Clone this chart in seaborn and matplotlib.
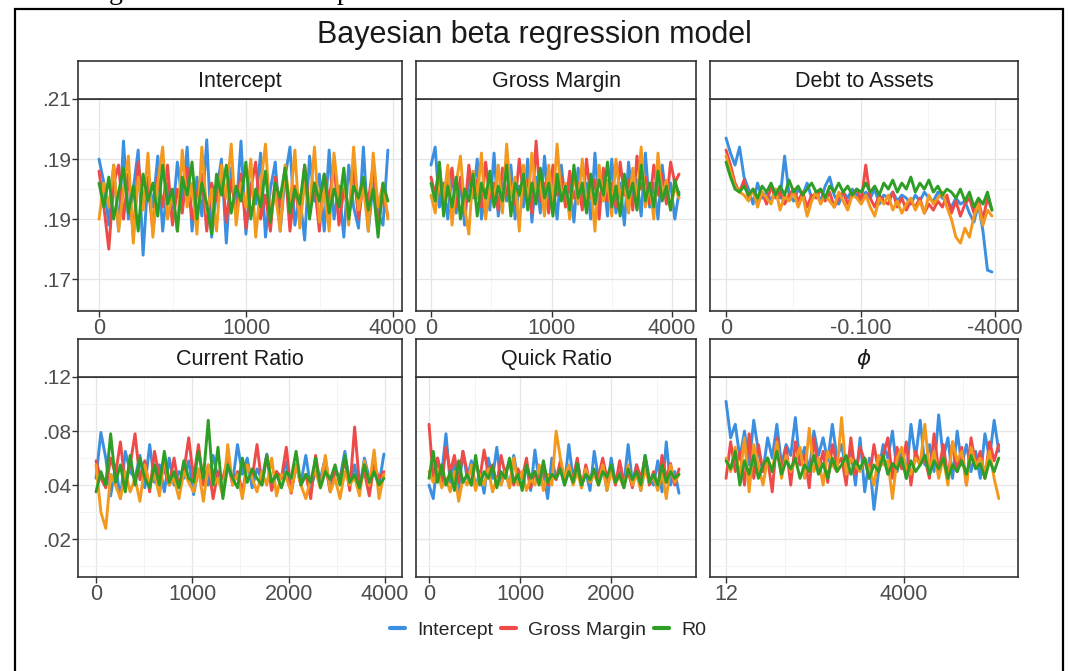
import numpy as np
import pandas as pd
import matplotlib
matplotlib.use("Agg")
import matplotlib.pyplot as plt
import seaborn as sns
from matplotlib.ticker import FixedLocator, NullFormatter
from matplotlib.patches import Rectangle

# ---------------- data ----------------
TITLE = "Bayesian beta regression model"
PANELS = ["Intercept", "Gross Margin", "Debt to Assets", "Current Ratio", "Quick Ratio", r"$\phi$"]
CHAINS = ["Intercept", "Gross Margin", "Chain 4", "R0"]          # draw order (green on top)
LEGEND_CHAINS = ["Intercept", "Gross Margin", "R0"]
COLORS = {"Intercept": "#3b8fe0", "Gross Margin": "#ee4a48", "Chain 4": "#f39a1e", "R0": "#2f9e26"}

# last iteration shown in each panel (axis units)
LAST_ITER = [3930, 4116, 3955, 2990, 2747, 4600]

# x tick positions / labels per panel
XTICKS = [[0, 2000, 4000], [0, 2000, 4000], [0, 2000, 4000], [0, 1000, 2000, 3000], [0, 1000, 2000], [0, 3000]]
XTICKLABELS = [["0", "1000", "4000"], ["0", "1000", "4000"], ["0", "-0.100", "-4000"],
               ["0", "1000", "2000", "4000"], ["0", "1000", "2000"], ["12", "4000"]]
XMINOR = [[1000, 3000], [1000, 3000], [1000, 3000], [500, 1500, 2500], [500, 1500, 2500], [1000, 2000, 4000]]
XLIM = [(-286, 4122), (-249, 4398), (-238, 4342), (-187, 3178), (-143, 2934), (-270, 4924)]

# y ticks per row
TOP_YTICKS = [0.21, 0.20, 0.19, 0.18]
TOP_YLABELS = [".21", ".19", ".19", ".17"]
TOP_YMINOR = [0.205, 0.195, 0.185, 0.175]
TOP_YLIM = (0.1747, 0.2100)
BOT_YTICKS = [0.12, 0.08, 0.04, 0.00]
BOT_YLABELS = [".12", ".08", ".04", ".02"]
BOT_YMINOR = [0.10, 0.06, 0.02, -0.02]
BOT_YLIM = (-0.028, 0.1200)

# ---- Intercept panel
int_blue = [.2000,.1960,.1890,.1990,.1880,.2030,.1900,.1950,.2015,.1840,.1970,.1920,.2005,.1880,.1960,.1900,.1995,.1930,.2020,.1880,
            .1970,.1905,.2032,.1870,.1945,.2000,.1860,.1985,.1910,.2030,.1875,.1960,.1925,.2010,.1870,.1950,.1995,.1880,.1970,.2020,
            .1890,.1940,.1865,.2005,.1930,.1975,.1880,.2015,.1900,.1955,.1870,.1990,.1920,.1885,.2020,.1880,.1960,.1910,.1890,.2015]
int_red = [.1980,.1920,.1850,.1960,.1990,.1900,.1975,.1870,.1995,.1930,.1960,.1880,.1970,.1920,.1990,.1890,.1950,.1910,.1985,.1900,
           .1940,.1975,.1880,.1960,.1930,.1990,.1895,.1965,.1910,.1975,.1885,.1950,.1995,.1900,.1940,.1880,.1970,.1920,.1985,.1880,
           .1955,.1900,.1990,.1915,.1960,.1880,.1975,.1930,.1995,.1890,.1950,.1910,.1985,.1900,.1960,.1930,.1990,.1890,.1945,.1905]
int_orange = [.1900,.1960,.1920,.1990,.1880,.1950,.2005,.1860,.1970,.1915,.2010,.1870,.1960,.2020,.1900,.1945,.1880,.2015,.1920,.1960,
              .1875,.2020,.1910,.1950,.1880,.1990,.1935,.2025,.1890,.1960,.1920,.2000,.1870,.1955,.2025,.1900,.1945,.1880,.1990,.1920,
              .2015,.1885,.1960,.1910,.2020,.1895,.1950,.1880,.2010,.1930,.1970,.1890,.2020,.1915,.1955,.1880,.2010,.1920,.1960,.1900]
int_green = [.1960,.1920,.1970,.1900,.1945,.1985,.1910,.1955,.1880,.1975,.1930,.1960,.1905,.1990,.1925,.1950,.1880,.1970,.1940,.1995,
             .1900,.1960,.1925,.1875,.1975,.1940,.1990,.1910,.1955,.1930,.1995,.1900,.1950,.1920,.1980,.1895,.1960,.1935,.1985,.1910,
             .1950,.1925,.1990,.1900,.1960,.1930,.1975,.1910,.1950,.1920,.1985,.1900,.1955,.1935,.1970,.1915,.1950,.1870,.1960,.1930]

# ---- Gross Margin panel
gm_blue = [.1990,.2020,.1920,.1960,.1900,.1980,.1910,.1960,.1890,.1975,.1935,.2000,.1900,.1950,.1915,.2010,.1905,.1960,.1930,.1990,
           .1900,.1955,.1920,.2000,.1895,.1970,.1910,.2005,.1920,.1960,.1900,.1990,.1925,.1960,.1895,.1985,.1930,.1960,.1900,.2010,
           .1920,.1970,.1905,.2000,.1910,.1960,.1890,.1995,.1930,.1965,.1905,.2010,.1920,.1960,.1900,.1990,.1930,.1960,.1900,.1945]
gm_red = [.1970,.1940,.1990,.1915,.1960,.1985,.1920,.1970,.1910,.1990,.1940,.1965,.1920,.1995,.1935,.1960,.1915,.1985,.1940,.1960,
          .1925,.2000,.1940,.1965,.1910,.2030,.1930,.1960,.1910,.1990,.1940,.1970,.1920,.1980,.1935,.1960,.1915,.2000,.1935,.1965,
          .1900,.1985,.1930,.1960,.1920,.1995,.1940,.1965,.1915,.2005,.1950,.1970,.1925,.1990,.1940,.1975,.1925,.1995,.1960,.1975]
gm_orange = [.1940,.1910,.1975,.1930,.1990,.1890,.1960,.2005,.1920,.1875,.1980,.1935,.2010,.1900,.1960,.1930,.1990,.1910,.2025,.1935,
             .1970,.1880,.1990,.1920,.2010,.1940,.1965,.1905,.1990,.1925,.2025,.1935,.1960,.1900,.1980,.1925,.2000,.1915,.1960,.1880,
             .1990,.1930,.1965,.1905,.2000,.1935,.1960,.1910,.1985,.1930,.2020,.1920,.1960,.1900,.2010,.1935,.1965,.1915,.1955,.1935]
gm_green = [.1960,.1930,.1995,.1905,.1955,.1920,.1970,.1900,.1950,.1930,.1975,.1905,.1960,.1935,.1980,.1920,.1955,.1930,.1990,.1905,
            .1960,.1940,.1975,.1915,.1960,.1925,.1985,.1935,.1960,.1905,.1975,.1930,.1955,.1915,.1990,.1935,.1960,.1910,.1975,.1925,
            .1965,.1940,.1995,.1920,.1955,.1905,.1975,.1935,.1960,.1915,.1990,.1930,.1960,.1920,.1980,.1930,.1955,.1915,.1965,.1940]

# ---- Debt to Assets panel
da_blue = [.2035,.2010,.1990,.2020,.1970,.1950,.1925,.1960,.1935,.1945,.1930,.1950,.1935,.2005,.1940,.1930,.1950,.1940,.1960,.1935,
           .1945,.1930,.1955,.1970,.1940,.1925,.1945,.1935,.1950,.1940,.1930,.1945,.1935,.1950,.1925,.1940,.1935,.1945,.1930,.1940,
           .1935,.1925,.1940,.1930,.1945,.1935,.1930,.1945,.1935,.1930,.1920,.1935,.1925,.1930,.1910,.1895,.1925,.1880,.1815,.1812]
da_red = [.2015,.1990,.1960,.1945,.1965,.1935,.1950,.1930,.1945,.1925,.1955,.1935,.1945,.1925,.1940,.1950,.1930,.1945,.1920,.1940,
          .1935,.1950,.1930,.1945,.1920,.1935,.1945,.1925,.1940,.1950,.1930,.1990,.1935,.1920,.1940,.1930,.1925,.1945,.1920,.1935,
          .1915,.1930,.1920,.1935,.1910,.1925,.1915,.1930,.1920,.1940,.1910,.1930,.1905,.1925,.1935,.1910,.1930,.1900,.1935,.1915]
da_orange = [.2005,.1980,.1955,.1945,.1940,.1930,.1950,.1920,.1945,.1935,.1925,.1950,.1915,.1940,.1930,.1945,.1920,.1940,.1905,.1930,
             .1945,.1925,.1940,.1930,.1920,.1945,.1930,.1915,.1940,.1935,.1925,.1940,.1920,.1905,.1935,.1925,.1940,.1915,.1930,.1910,
             .1925,.1935,.1915,.1930,.1910,.1940,.1925,.1935,.1945,.1920,.1900,.1870,.1860,.1885,.1870,.1905,.1925,.1890,.1915,.1905]
da_green = [.1995,.1970,.1950,.1945,.1955,.1940,.1950,.1935,.1955,.1945,.1960,.1940,.1955,.1940,.1965,.1945,.1955,.1940,.1950,.1960,
            .1945,.1950,.1935,.1955,.1945,.1960,.1945,.1955,.1940,.1950,.1945,.1960,.1945,.1955,.1940,.1960,.1950,.1965,.1945,.1960,
            .1950,.1970,.1945,.1960,.1950,.1965,.1945,.1955,.1940,.1950,.1945,.1935,.1950,.1930,.1945,.1920,.1935,.1925,.1945,.1915]

# ---- Current Ratio panel
cr_blue = [.045,.079,.060,.032,.055,.030,.065,.050,.045,.062,.038,.070,.042,.055,.035,.060,.040,.050,.045,.058,
           .033,.052,.048,.040,.062,.045,.035,.055,.042,.070,.048,.060,.038,.052,.044,.063,.040,.050,.045,.057,
           .035,.055,.042,.062,.038,.050,.045,.060,.036,.052,.045,.065,.040,.055,.036,.060,.045,.050,.040,.063]
cr_red = [.058,.045,.038,.060,.048,.072,.040,.055,.078,.044,.058,.035,.065,.045,.052,.040,.060,.038,.050,.075,
          .045,.070,.040,.055,.030,.050,.045,.060,.040,.050,.035,.055,.045,.070,.040,.062,.036,.050,.045,.068,
          .034,.055,.040,.048,.030,.062,.040,.055,.035,.050,.045,.058,.036,.083,.040,.050,.032,.055,.045,.050]
cr_orange = [.055,.020,.008,.048,.040,.030,.050,.035,.045,.028,.055,.040,.048,.032,.060,.040,.045,.030,.050,.042,
             .035,.052,.028,.055,.040,.045,.032,.070,.040,.048,.030,.055,.045,.035,.050,.040,.060,.032,.048,.045,
             .035,.055,.040,.030,.045,.050,.038,.062,.035,.045,.030,.050,.040,.046,.032,.058,.040,.066,.030,.048]
cr_green = [.035,.050,.040,.078,.042,.055,.035,.062,.040,.060,.045,.038,.055,.040,.065,.042,.050,.038,.058,.045,
            .042,.065,.045,.088,.040,.068,.030,.055,.045,.038,.060,.042,.052,.045,.040,.062,.042,.048,.038,.050,
            .045,.065,.040,.048,.042,.060,.038,.050,.044,.055,.040,.062,.042,.048,.038,.055,.042,.050,.040,.045]

# ---- Quick Ratio panel
qr_blue = [.040,.030,.060,.048,.078,.042,.055,.035,.065,.045,.058,.038,.050,.034,.060,.045,.068,.040,.052,.038,
           .062,.045,.040,.055,.036,.066,.042,.050,.030,.060,.045,.052,.040,.070,.045,.058,.040,.050,.036,.065,
           .045,.055,.036,.060,.042,.050,.040,.070,.042,.055,.036,.062,.045,.040,.058,.035,.072,.040,.050,.034]
qr_red = [.085,.045,.060,.040,.068,.050,.062,.042,.065,.050,.040,.058,.045,.066,.048,.055,.040,.062,.048,.058,
          .040,.052,.045,.060,.038,.050,.044,.055,.040,.048,.044,.058,.042,.052,.045,.060,.038,.055,.042,.050,
          .046,.060,.045,.052,.040,.058,.042,.050,.038,.055,.045,.060,.040,.050,.038,.062,.045,.056,.040,.052]
qr_orange = [.050,.042,.052,.038,.045,.035,.050,.028,.045,.040,.055,.036,.048,.040,.052,.035,.045,.040,.050,.038,
             .060,.040,.050,.036,.045,.040,.055,.036,.048,.040,.080,.060,.045,.055,.040,.050,.038,.052,.042,.048,
             .040,.055,.036,.050,.042,.046,.038,.055,.040,.048,.036,.052,.042,.046,.036,.050,.030,.055,.042,.048]
qr_green = [.045,.065,.042,.055,.040,.050,.036,.058,.042,.048,.040,.062,.040,.050,.045,.054,.038,.050,.045,.060,
            .042,.048,.036,.055,.045,.050,.040,.058,.042,.048,.045,.052,.040,.050,.042,.056,.040,.048,.044,.052,
            .040,.050,.046,.055,.042,.048,.038,.052,.044,.050,.040,.062,.042,.048,.040,.055,.042,.050,.045,.048]

# ---- phi panel
ph_blue = [.102,.075,.085,.060,.080,.055,.088,.065,.050,.075,.060,.085,.055,.070,.062,.090,.055,.068,.050,.080,
           .062,.075,.058,.085,.060,.070,.050,.065,.040,.075,.035,.060,.022,.050,.070,.060,.080,.050,.065,.045,
           .085,.060,.088,.055,.070,.050,.092,.060,.075,.045,.080,.055,.070,.050,.065,.045,.078,.060,.088,.065]
ph_red = [.045,.072,.050,.065,.040,.078,.045,.070,.050,.060,.035,.075,.048,.068,.040,.072,.055,.062,.038,.075,
          .050,.065,.042,.070,.055,.060,.040,.075,.048,.068,.058,.045,.070,.050,.062,.075,.045,.068,.052,.072,
          .040,.065,.055,.060,.045,.078,.050,.070,.045,.072,.050,.068,.040,.075,.055,.065,.045,.072,.058,.070]
ph_orange = [.060,.050,.068,.045,.075,.035,.070,.055,.040,.060,.050,.072,.045,.062,.050,.058,.068,.045,.082,.050,
             .060,.040,.065,.055,.050,.090,.048,.060,.055,.050,.060,.052,.040,.062,.055,.058,.030,.060,.068,.052,
             .048,.060,.055,.085,.050,.065,.045,.060,.040,.072,.058,.065,.040,.068,.055,.060,.050,.065,.045,.030]
ph_green = [.058,.052,.065,.040,.058,.048,.062,.045,.055,.060,.050,.065,.048,.058,.052,.060,.045,.055,.050,.062,
            .048,.056,.045,.060,.050,.055,.062,.048,.058,.052,.060,.045,.055,.050,.062,.048,.056,.052,.060,.045,
            .058,.050,.055,.062,.048,.058,.052,.060,.045,.055,.050,.058,.048,.062,.052,.056,.045,.058,.050,.060]

SERIES = [
    {"Intercept": int_blue, "Gross Margin": int_red, "Chain 4": int_orange, "R0": int_green},
    {"Intercept": gm_blue, "Gross Margin": gm_red, "Chain 4": gm_orange, "R0": gm_green},
    {"Intercept": da_blue, "Gross Margin": da_red, "Chain 4": da_orange, "R0": da_green},
    {"Intercept": cr_blue, "Gross Margin": cr_red, "Chain 4": cr_orange, "R0": cr_green},
    {"Intercept": qr_blue, "Gross Margin": qr_red, "Chain 4": qr_orange, "R0": qr_green},
    {"Intercept": ph_blue, "Gross Margin": ph_red, "Chain 4": ph_orange, "R0": ph_green},
]

# ---------------- figure ----------------
sns.set_theme(style="white")
plt.rcParams["font.family"] = ["Liberation Sans", "DejaVu Sans"]
plt.rcParams["mathtext.fontset"] = "dejavusans"

W, H = 1068, 671
fig = plt.figure(figsize=(W / 100, H / 100), dpi=100)
fig.patch.set_facecolor("white")


def fbox(x0, y0, x1, y1):
    return [x0 / W, 1 - y1 / H, (x1 - x0) / W, (y1 - y0) / H]


# pixel layout of panels: (x0, x1), row (strip_top, panel_top, panel_bottom)
COLS = [(78, 402), (416, 696), (710, 1018)]
ROWS = [(61, 99, 311), (339, 377, 577)]

DARK = "#333333"
TICKCOL = "#4d4d4d"
GRID_MAJ = "#e6e6e6"
GRID_MIN = "#f2f2f2"

legend_handles = None
for i, name in enumerate(PANELS):
    r, c = divmod(i, 3)
    x0, x1 = COLS[c]
    st, pt, pb = ROWS[r]
    ax = fig.add_axes(fbox(x0, pt, x1, pb))
    n = len(SERIES[i]["Intercept"])
    iters = np.linspace(0, LAST_ITER[i], n)
    rows = []
    for ch in CHAINS:
        for it, v in zip(iters, SERIES[i][ch]):
            rows.append((it, v, ch))
    df = pd.DataFrame(rows, columns=["iteration", "value", "chain"])
    sns.lineplot(data=df, x="iteration", y="value", hue="chain", hue_order=CHAINS,
                 palette=COLORS, estimator=None, sort=False, linewidth=2.1,
                 ax=ax, legend=(i == 0))
    if i == 0:
        h, l = ax.get_legend_handles_labels()
        legend_handles = {lab: hd for hd, lab in zip(h, l)}
        ax.get_legend().remove()

    ax.set_xlim(*XLIM[i])
    ax.set_xticks(XTICKS[i])
    ax.set_xticklabels(XTICKLABELS[i])
    ax.xaxis.set_minor_locator(FixedLocator(XMINOR[i]))
    ax.xaxis.set_minor_formatter(NullFormatter())
    if r == 0:
        ax.set_ylim(*TOP_YLIM)
        ax.set_yticks(TOP_YTICKS)
        ax.set_yticklabels(TOP_YLABELS)
        ax.yaxis.set_minor_locator(FixedLocator(TOP_YMINOR))
    else:
        ax.set_ylim(*BOT_YLIM)
        ax.set_yticks(BOT_YTICKS)
        ax.set_yticklabels(BOT_YLABELS)
        ax.yaxis.set_minor_locator(FixedLocator(BOT_YMINOR))
    ax.yaxis.set_minor_formatter(NullFormatter())
    ax.grid(True, which="major", color=GRID_MAJ, linewidth=0.9)
    ax.grid(True, which="minor", color=GRID_MIN, linewidth=0.6)
    ax.set_axisbelow(True)
    ax.set_xlabel("")
    ax.set_ylabel("")
    for sp in ax.spines.values():
        sp.set_color(DARK)
        sp.set_linewidth(1.2)
    ax.tick_params(axis="x", which="major", length=4, width=1.0, color=DARK,
                   labelsize=15.5, labelcolor=TICKCOL, pad=1, bottom=True)
    ax.tick_params(axis="x", which="minor", length=0)
    ax.tick_params(axis="y", which="minor", length=0)
    if c == 0:
        ax.tick_params(axis="y", which="major", length=4, width=1.0, color=DARK,
                       labelsize=15, labelcolor=TICKCOL, pad=1, left=True)
    else:
        ax.tick_params(axis="y", which="major", length=0, labelleft=False)

    # facet strip
    sax = fig.add_axes(fbox(x0, st, x1, pt))
    sax.set_xticks([])
    sax.set_yticks([])
    sax.set_facecolor("white")
    for sp in sax.spines.values():
        sp.set_color(DARK)
        sp.set_linewidth(1.2)
    sax.text(0.5, 0.47, name, ha="center", va="center", fontsize=15.5,
             color="#1a1a1a", transform=sax.transAxes)

# title
fig.text(534 / W, 1 - 35 / H, TITLE, ha="center", va="center", fontsize=22, color="#1a1a1a")

# legend
handles = [legend_handles[k] for k in LEGEND_CHAINS]
leg = fig.legend(handles, LEGEND_CHAINS, loc="center", bbox_to_anchor=(548 / W, 1 - 630 / H),
                 ncol=3, frameon=False, fontsize=14, handlelength=0.8, handletextpad=0.6,
                 columnspacing=0.4)
for line in leg.get_lines():
    line.set_linewidth(3)

# outer frame of the figure box
fig.patches.append(Rectangle((15 / W, -0.05), (1063 - 15) / W, 1.05 - 9 / H,
                             transform=fig.transFigure, fill=False, edgecolor="black",
                             linewidth=1.6, zorder=10))
# cropped caption line above the frame (only descenders visible, as in the source)
fig.text(109 / W, 1 + 1 / H, "g", family=["Liberation Serif", "DejaVu Serif"], fontsize=20,
         ha="left", va="baseline", color="black")
fig.text(337 / W, 1 + 1 / H, "p", family=["Liberation Serif", "DejaVu Serif"], fontsize=20,
         ha="left", va="baseline", color="black")

fig.savefig("out.png", dpi=100, facecolor="white")
